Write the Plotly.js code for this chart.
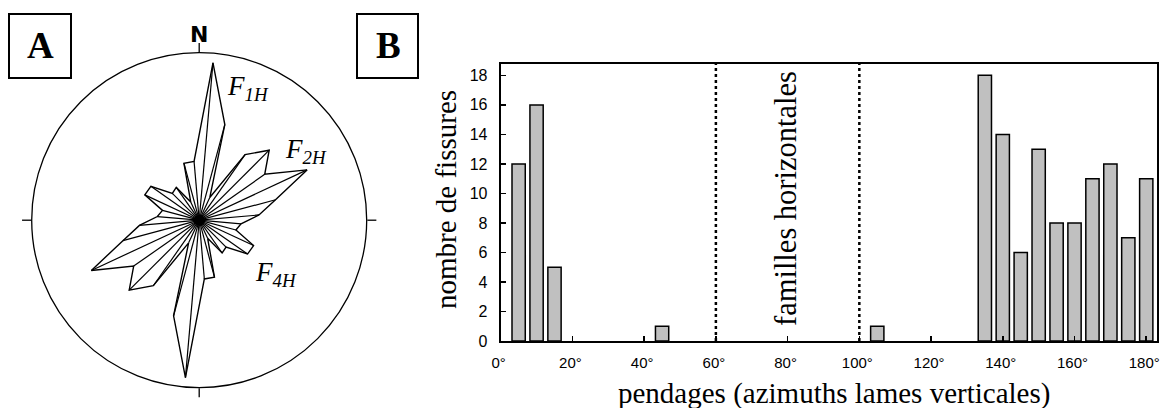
<!DOCTYPE html>
<html>
<head>
<meta charset="utf-8">
<script src="https://cdn.plot.ly/plotly-3.0.1.min.js"></script>
<style>
  html, body { margin: 0; padding: 0; background: #ffffff; }
  #chart { width: 1160px; height: 408px; }
</style>
</head>
<body>
<div id="chart"></div>
<script>
// ---- Panel A: bidirectional rose of fracture azimuths (bin centres, degrees from N) ----
const roseAngles = [5, 15, 25, 35, 45, 55, 65, 75, 85, 95, 105, 115, 125, 135, 145, 155, 165, 175,
                    185, 195, 205, 215, 225, 235, 245, 255, 265, 275, 285, 295, 305, 315, 325, 335, 345, 355];
const roseRadii  = [158, 99, 25, 80, 99, 80, 119, 79, 60, 42, 38, 60, 59, 38, 40, 20, 59, 59,
                    158, 99, 25, 80, 99, 80, 119, 79, 60, 42, 38, 60, 59, 38, 40, 20, 59, 59];
const roseMax = 167.5;

// ---- Panel B: histogram of dips ----
const dipClasses = [5, 10, 15, 45, 105, 135, 140, 145, 150, 155, 160, 165, 170, 175, 180];
const fissureCounts = [12, 16, 5, 1, 1, 18, 14, 6, 13, 8, 8, 11, 12, 7, 11];
const xTickVals = [0, 20, 40, 60, 80, 100, 120, 140, 160, 180];
const xTickText = ['0°', '20°', '40°', '60°', '80°', '100°', '120°', '140°', '160°', '180°'];
const yTickVals = [0, 2, 4, 6, 8, 10, 12, 14, 16, 18];
const horizontalFamilyBounds = [60, 100];

const W = 1160, H = 408;
const px = v => v / W;
const py = v => 1 - v / H;

// rose outline (closed)
const outlineR = roseRadii.concat([roseRadii[0]]);
const outlineT = roseAngles.concat([roseAngles[0]]);
// spokes
const spokeR = [], spokeT = [];
roseAngles.forEach((a, i) => {
  spokeR.push(0, roseRadii[i], null);
  spokeT.push(a, a, null);
});

const serif = 'Liberation Serif, Times New Roman, serif';
const sans = 'Liberation Sans, Arial, sans-serif';

const traces = [
  { type: 'scatterpolar', subplot: 'polar', r: spokeR, theta: spokeT, mode: 'lines',
    line: { color: '#000', width: 1.2 }, hoverinfo: 'skip', connectgaps: false },
  { type: 'scatterpolar', subplot: 'polar', r: outlineR, theta: outlineT, mode: 'lines',
    line: { color: '#000', width: 1.4 }, hoverinfo: 'skip' },
  { type: 'scatterpolar', subplot: 'polar', r: [0], theta: [0], mode: 'markers',
    marker: { color: '#000', size: 11 }, hoverinfo: 'skip' },
  { type: 'bar', x: dipClasses, y: fissureCounts, xaxis: 'x', yaxis: 'y', width: 3.7,
    marker: { color: '#c0c0c0', line: { color: '#000', width: 1.5 } } }
];

const shapes = [
  { type: 'rect', xref: 'paper', yref: 'paper', x0: px(9), x1: px(71), y0: py(78), y1: py(14),
    line: { color: '#000', width: 2 } },
  { type: 'rect', xref: 'paper', yref: 'paper', x0: px(357), x1: px(418), y0: py(78), y1: py(14),
    line: { color: '#000', width: 2 } }
];
horizontalFamilyBounds.forEach(v => shapes.push({
  type: 'line', xref: 'x', yref: 'y domain', x0: v, x1: v, y0: 0, y1: 1,
  line: { color: '#000', width: 2.5, dash: 'dot' }
}));

const annotations = [
  { xref: 'paper', yref: 'paper', x: px(40), y: py(45), text: '<b>A</b>', showarrow: false,
    font: { family: serif, size: 37, color: '#000' }, xanchor: 'center', yanchor: 'middle' },
  { xref: 'paper', yref: 'paper', x: px(388), y: py(45), text: '<b>B</b>', showarrow: false,
    font: { family: serif, size: 37, color: '#000' }, xanchor: 'center', yanchor: 'middle' },
  { xref: 'paper', yref: 'paper', x: px(199), y: py(34), text: '<b>N</b>', showarrow: false,
    font: { family: 'DejaVu Sans, sans-serif', size: 22, color: '#000' }, xanchor: 'center', yanchor: 'middle' },
  { xref: 'paper', yref: 'paper', x: px(225), y: py(88), text: '<i>F<sub>1H</sub></i>', showarrow: false,
    font: { family: serif, size: 27, color: '#000' }, xanchor: 'left', yanchor: 'middle' },
  { xref: 'paper', yref: 'paper', x: px(283), y: py(151), text: '<i>F<sub>2H</sub></i>', showarrow: false,
    font: { family: serif, size: 27, color: '#000' }, xanchor: 'left', yanchor: 'middle' },
  { xref: 'paper', yref: 'paper', x: px(253), y: py(274), text: '<i>F<sub>4H</sub></i>', showarrow: false,
    font: { family: serif, size: 27, color: '#000' }, xanchor: 'left', yanchor: 'middle' },
  { xref: 'paper', yref: 'paper', x: px(446), y: py(200), text: 'nombre de fissures', textangle: -90,
    showarrow: false, font: { family: serif, size: 29, color: '#000' }, xanchor: 'center', yanchor: 'middle' },
  { xref: 'paper', yref: 'paper', x: px(834), y: py(393), text: 'pendages (azimuths lames verticales)',
    showarrow: false, font: { family: serif, size: 29, color: '#000' }, xanchor: 'center', yanchor: 'middle' },
  { xref: 'paper', yref: 'paper', x: px(786), y: py(199), text: 'familles horizontales', textangle: -90,
    showarrow: false, font: { family: serif, size: 30.5, color: '#000' }, xanchor: 'center', yanchor: 'middle' }
];

const layout = {
  width: W, height: H,
  margin: { l: 0, r: 0, t: 0, b: 0 },
  paper_bgcolor: '#fff', plot_bgcolor: '#fff',
  showlegend: false,
  polar: {
    domain: { x: [px(31.7), px(366.7)], y: [py(387.7), py(52.7)] },
    bgcolor: '#fff',
    radialaxis: { visible: false, range: [0, roseMax] },
    angularaxis: {
      rotation: 90, direction: 'clockwise', showgrid: false,
      showline: true, linecolor: '#000', linewidth: 1.3,
      ticks: 'outside', ticklen: 9, tickwidth: 1.3, tickcolor: '#000',
      tickmode: 'array', tickvals: [0, 90, 180, 270], showticklabels: false
    }
  },
  xaxis: {
    domain: [px(500.7), px(1157)], range: [0, 183], anchor: 'y',
    showline: true, mirror: true, linecolor: '#000', linewidth: 2,
    ticks: 'inside', ticklen: 5, tickwidth: 1.5, tickcolor: '#000',
    tickmode: 'array', tickvals: xTickVals, ticktext: xTickText,
    tickfont: { family: sans, size: 15, color: '#000' },
    showgrid: false, zeroline: false, ticklabelstandoff: 7, ticklabelshift: -2,
    ticklabeloverflow: 'allow'
  },
  yaxis: {
    domain: [py(341), py(64)], range: [0, 18.77], anchor: 'x',
    showline: true, mirror: true, linecolor: '#000', linewidth: 2,
    ticks: 'inside', ticklen: 5, tickwidth: 1.5, tickcolor: '#000',
    tickmode: 'array', tickvals: yTickVals,
    tickfont: { family: sans, size: 16, color: '#000' },
    showgrid: false, zeroline: false, ticklabelstandoff: 8
  },
  shapes: shapes,
  annotations: annotations
};

Plotly.newPlot('chart', traces, layout, { staticPlot: true, displayModeBar: false });
</script>
</body>
</html>
